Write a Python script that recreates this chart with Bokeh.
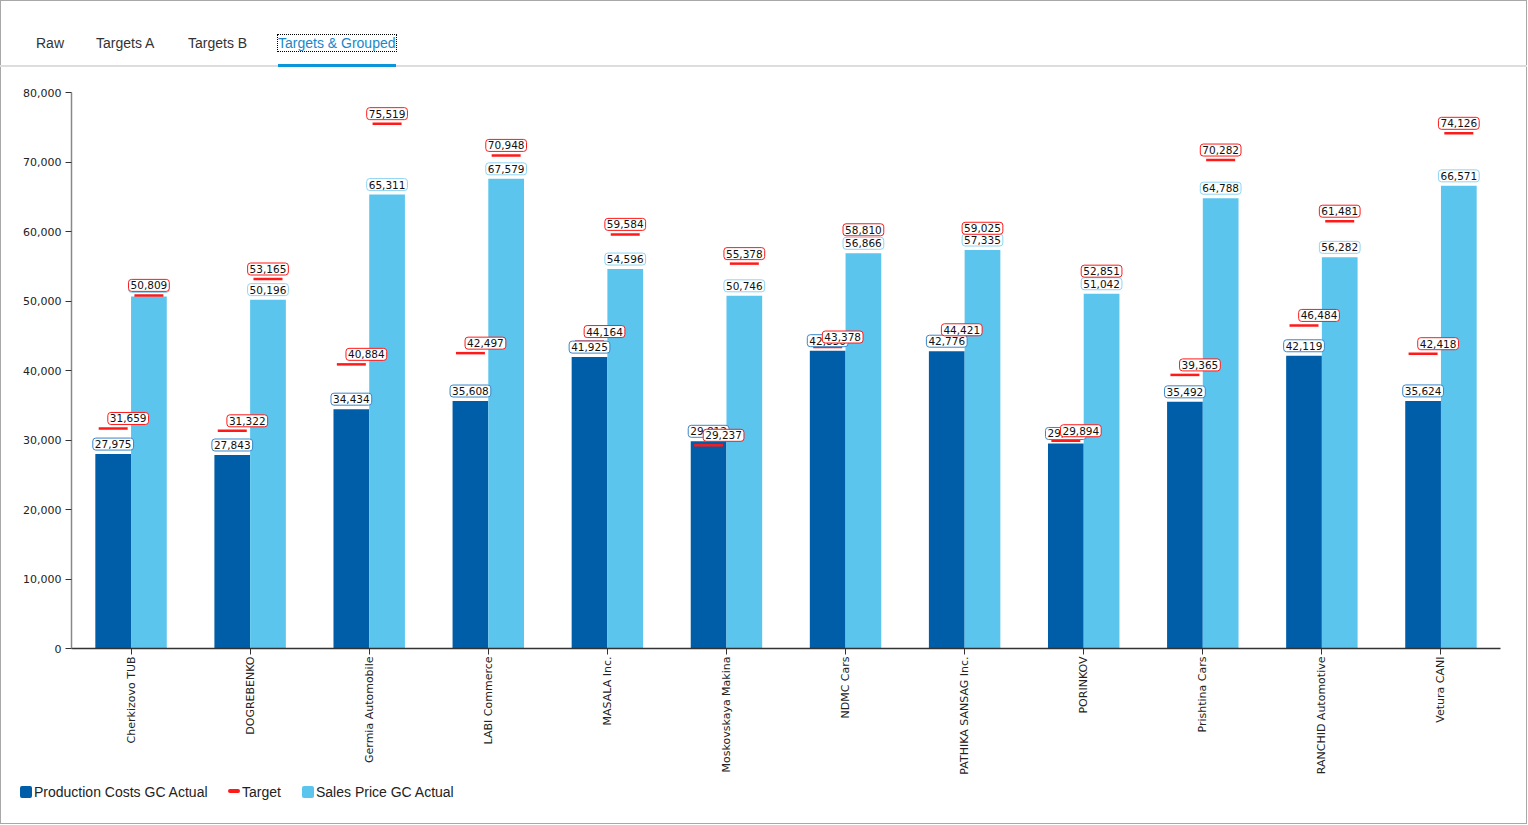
from bokeh.plotting import figure
from bokeh.models import (ColumnDataSource, FactorRange, Range1d, Div,
                          SingleIntervalTicker, NumeralTickFormatter)
from bokeh.transform import dodge
from bokeh.layouts import column
from bokeh.core.properties import value
from bokeh.embed import file_html
from bokeh.resources import INLINE
import math

categories = ["Cherkizovo TUB", "DOGREBENKO", "Germia Automobile", "LABI Commerce",
              "MASALA Inc.", "Moskovskaya Makina", "NDMC Cars", "PATHIKA SANSAG Inc.",
              "PORINKOV", "Prishtina Cars", "RANCHID Automotive", "Vetura CANI"]
production_actual = [27975, 27843, 34434, 35608, 41925, 29812, 42850, 42776, 29500, 35492, 42119, 35624]
production_target = [31659, 31322, 40884, 42497, 44164, 29237, 43378, 44421, 29894, 39365, 46484, 42418]
sales_actual = [50650, 50196, 65311, 67579, 54596, 50746, 56866, 57335, 51042, 64788, 56282, 66571]
sales_target = [50809, 53165, 75519, 70948, 59584, 55378, 58810, 59025, 52851, 70282, 61481, 74126]
tab_labels = ["Raw", "Targets A", "Targets B", "Targets & Grouped"]
legend_labels = ["Production Costs GC Actual", "Target", "Sales Price GC Actual"]

PROD = "#005ea8"
SALES = "#5bc5ee"
RED = "#ff1a1a"

def fmt(v):
    return f"{v:,}"

src = ColumnDataSource(dict(
    cat=categories,
    pa=production_actual, pt=production_target,
    sa=sales_actual, st=sales_target,
    pa_t=[fmt(v) for v in production_actual],
    pt_t=[fmt(v) for v in production_target],
    sa_t=[fmt(v) for v in sales_actual],
    st_t=[fmt(v) for v in sales_target],
))

p = figure(width=1527, height=715, x_range=FactorRange(*categories, range_padding=0),
           y_range=Range1d(0, 80000), output_backend="svg", toolbar_location=None,
           min_border_left=71, min_border_right=27, min_border_top=25, min_border_bottom=134,
           styles={"box-shadow": "inset 1px 0 0 #a8a8a8, inset -1px 0 0 #a8a8a8"})
p.outline_line_color = None
p.xgrid.visible = False
p.ygrid.visible = False
p.background_fill_color = "white"
p.border_fill_alpha = 0

p.vbar(x=dodge("cat", -0.15, range=p.x_range), top="pa", width=0.3, source=src,
       fill_color=PROD, line_color=None)
p.vbar(x=dodge("cat", 0.15, range=p.x_range), top="sa", width=0.3, source=src,
       fill_color=SALES, line_color=None)
p.scatter(x=dodge("cat", -0.15, range=p.x_range), y="pt", marker="dash", size=29,
          line_color=RED, line_width=2.5, source=src)
p.scatter(x=dodge("cat", 0.15, range=p.x_range), y="st", marker="dash", size=29,
          line_color=RED, line_width=2.5, source=src)

def labels(xoff, ycol, tcol, border, x_offset=0):
    p.text(x=dodge("cat", xoff, range=p.x_range), y=ycol, text=tcol, source=src,
           x_offset=x_offset, y_offset=-10, text_align="center", text_baseline="middle",
           text_font=value("DejaVu Sans"), text_font_size="10.5px", text_color="#111",
           background_fill_color="white", border_line_color=border, border_line_width=1,
           padding=2, border_radius=3)

labels(-0.15, "pa", "pa_t", "#3a86c8")
labels(0.15, "sa", "sa_t", "#8fd4f4")
labels(-0.15, "pt", "pt_t", RED, x_offset=15)
labels(0.15, "st", "st_t", RED)

for ax in (p.xaxis[0], p.yaxis[0]):
    ax.major_label_text_font = "DejaVu Sans"
    ax.major_label_text_font_size = "11px"
    ax.major_label_text_color = "#222"
    ax.major_tick_in = 0
    ax.major_tick_out = 6
    ax.major_tick_line_color = "#333"
    ax.minor_tick_line_color = None

p.yaxis.ticker = SingleIntervalTicker(interval=10000)
p.yaxis.formatter = NumeralTickFormatter(format="0,0")
p.yaxis.axis_line_color = "#888"
p.yaxis.axis_line_width = 1.5
p.yaxis.major_label_standoff = 4
p.xaxis.axis_line_color = "#333"
p.xaxis.axis_line_width = 1.5
p.xaxis.major_label_orientation = math.pi / 2
p.xaxis.major_label_standoff = 2

tab_lefts = [36, 96, 188, 278]
tabs_html = ['<div style="position:relative;width:1527px;height:67px;'
             'font-family:\'Liberation Sans\',Arial,sans-serif;font-size:14px;">']
for i, (t, l) in enumerate(zip(tab_labels, tab_lefts)):
    if i == 3:
        tabs_html.append(f'<span style="position:absolute;left:{l}px;top:35px;line-height:16px;'
                         f'color:#1a87c9;outline:1px dotted #000;white-space:nowrap;">{t.replace("&", "&amp;")}</span>')
    else:
        tabs_html.append(f'<span style="position:absolute;left:{l}px;top:35px;line-height:16px;'
                         f'color:#333;white-space:nowrap;">{t}</span>')
tabs_html.append('<div style="position:absolute;left:0;top:65px;width:1527px;height:2px;background:#dddddd;"></div>')
tabs_html.append('<div style="position:absolute;left:278px;top:64px;width:118px;height:2.5px;background:#0a96d9;"></div>')
tabs_html.append('</div>')
tabs = Div(text="".join(tabs_html), width=1527, height=67, margin=0)

leg_html = ['<div style="position:relative;width:1527px;height:42px;'
            'font-family:\'Liberation Sans\',Arial,sans-serif;font-size:14px;color:#222;">']
sw = [(20, PROD, 12, 12, 2, 4), (228, RED, 12, 4, 2, 7), (302, SALES, 12, 12, 2, 4)]
txt_left = [34, 242, 316]
for (l, c, w, h, r, top), lab, tl in zip(sw, legend_labels, txt_left):
    leg_html.append(f'<div style="position:absolute;left:{l}px;top:{top}px;width:{w}px;height:{h}px;'
                    f'background:{c};border-radius:{r}px;"></div>')
    leg_html.append(f'<span style="position:absolute;left:{tl}px;top:2px;line-height:16px;'
                    f'white-space:nowrap;">{lab}</span>')
leg_html.append('</div>')
legend = Div(text="".join(leg_html), width=1527, height=42, margin=0)

layout = column(tabs, p, legend, spacing=0,
                styles={"outline": "1px solid #a8a8a8", "outline-offset": "-1px"})
open("out.html", "w").write(file_html(layout, INLINE))
